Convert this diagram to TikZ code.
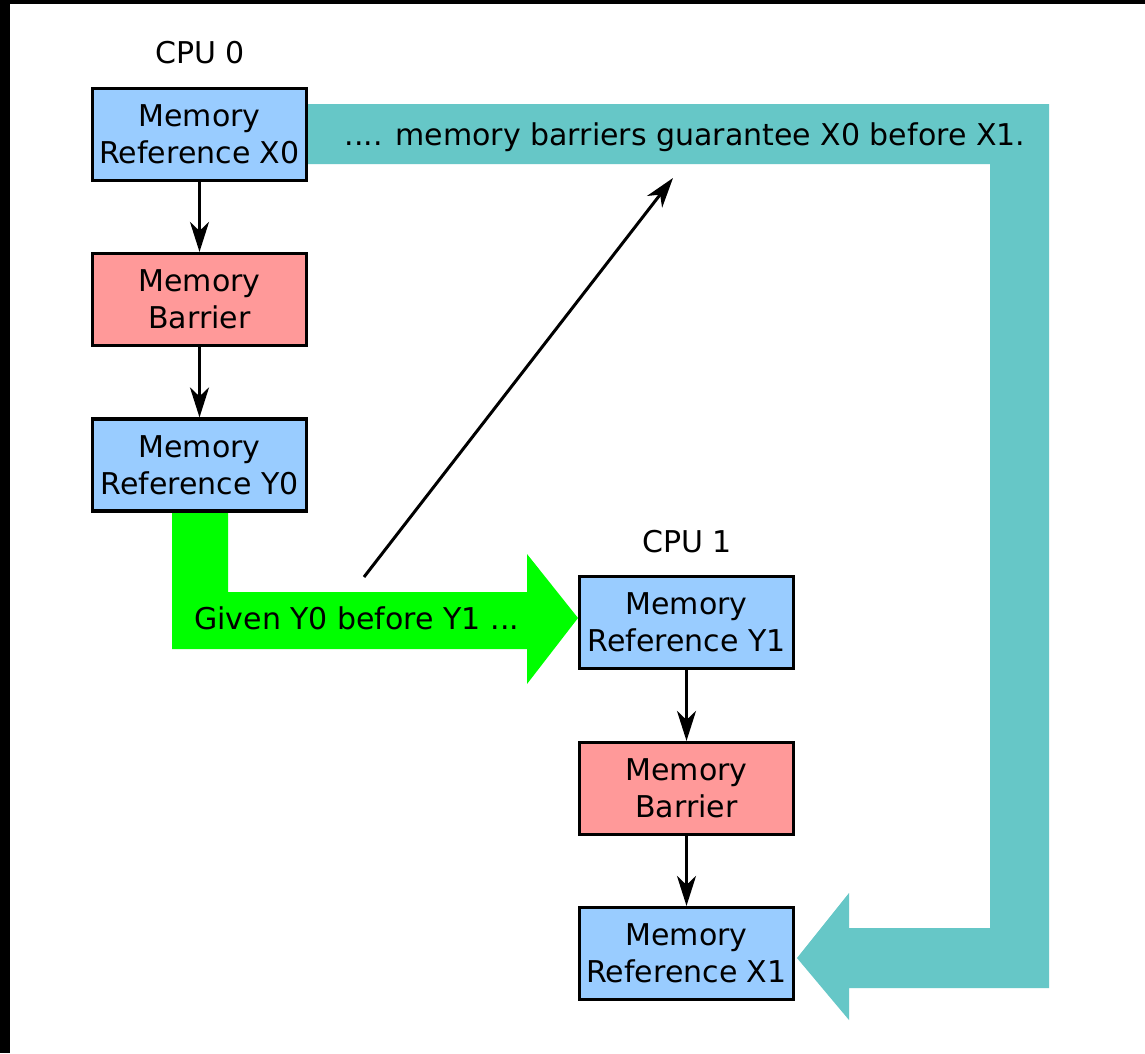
\documentclass[tikz,border=0pt]{standalone}
\usepackage{fontspec}
\setmainfont{DejaVu Sans}
\usetikzlibrary{arrows.meta,backgrounds,calc}
\definecolor{boxblue}{RGB}{153,204,255}
\definecolor{boxpink}{RGB}{255,153,153}
\definecolor{tealband}{RGB}{102,199,199}
\definecolor{greenband}{RGB}{0,255,0}
\begin{document}
\begin{tikzpicture}[x=1pt,y=-1pt,
  box/.style={draw=black,line width=3.2pt,minimum width=214pt,minimum height=92pt,inner sep=0pt,align=center,font=\fontsize{30}{37}\selectfont},
  refbox/.style={box,fill=boxblue},
  barbox/.style={box,fill=boxpink},
  lbl/.style={font=\fontsize{30}{35}\selectfont,inner sep=0pt},
  arr/.style={draw=black,line width=3pt,-{Stealth[length=30pt,width=19pt,inset=9pt]}}]
\useasboundingbox (0,0) rectangle (1145,1053);
% nodes
\node[refbox] (x0) at (199.5,134.5) {Memory\\Reference X0};
\node[barbox] (b0) at (199.5,299.5) {Memory\\Barrier};
\node[refbox] (y0) at (199.5,465) {Memory\\Reference Y0};
\node[refbox] (y1) at (686.5,622.5) {Memory\\Reference Y1};
\node[barbox] (b1) at (686.5,788.5) {Memory\\Barrier};
\node[refbox] (x1) at (686.5,953.5) {Memory\\Reference X1};
\node[lbl] (cpu0) at (200,53) {CPU 0};
\node[lbl] (cpu1) at (687,542) {CPU 1};
\node[lbl,anchor=base] (tt) at (685,145) {.... memory barriers guarantee X0 before X1.};
\node[lbl,anchor=base west] (gt) at (194,629) {Given Y0 before Y1 ...};
% connectors
\draw[arr] (x0) -- (b0);
\draw[arr] (b0) -- (y0);
\draw[arr] (y1) -- (b1);
\draw[arr] (b1) -- (x1);
\coordinate (ds) at (364,577);
\coordinate (de) at (673,178);
\draw[arr] (ds) -- (de);
% background bands and frame
\begin{scope}[on background layer]
\fill[white] (0,0) rectangle (1145,1053);
\fill[tealband] (306,104) -- (1049,104) -- (1049,988) -- (849,988) -- (849,1020)
  -- (797,958) -- (849,893) -- (849,928) -- (990,928) -- (990,164) -- (306,164) -- cycle;
\fill[greenband] (172,511) -- (228,511) -- (228,592) -- (527,592) -- (527,554)
  -- (578,618) -- (527,684) -- (527,649) -- (172,649) -- cycle;
\fill[black] (0,0) rectangle (1145,4);
\fill[black] (0,0) rectangle (10,1053);
\end{scope}
\end{tikzpicture}
\end{document}
